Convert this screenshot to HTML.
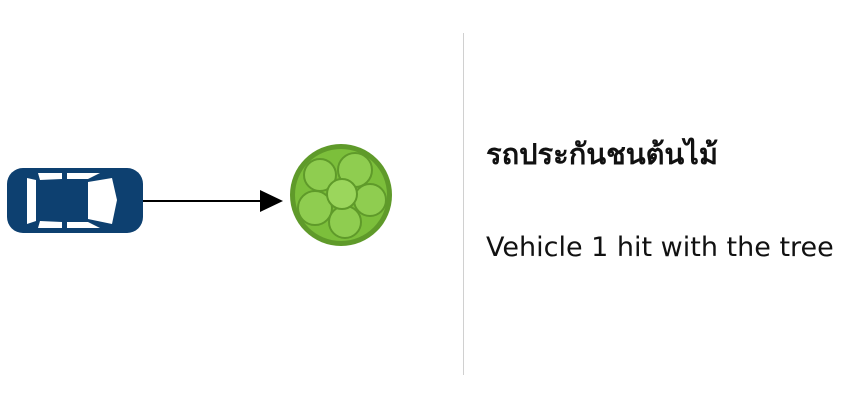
<!DOCTYPE html>
<html><head><meta charset="utf-8"><style>
body{margin:0;width:854px;height:400px;background:#fff;overflow:hidden;position:relative;font-family:"DejaVu Sans","Liberation Sans",sans-serif;color:#111}
.t{position:absolute;white-space:nowrap}
</style></head><body>
<svg width="464" height="400" style="position:absolute;left:0;top:0">
 <g>
  <rect x="7" y="168" width="136" height="65" rx="16" fill="#0d4070"/>
  <polygon points="27,178 36,180 36,221 27,224" fill="#fff"/>
  <polygon points="38,173 62,173 62,179 40,180" fill="#fff"/>
  <polygon points="67,173 100,173 88,179 67,179" fill="#fff"/>
  <polygon points="38,228 62,228 62,222 40,221" fill="#fff"/>
  <polygon points="67,228 100,228 88,222 67,222" fill="#fff"/>
  <polygon points="88,182 112,178 117,200 112,224 88,219" fill="#fff"/>
  <rect x="38" y="181" width="24" height="40" fill="#0d4070"/>
 </g>
 <g>
  <line x1="143" y1="201" x2="262" y2="201" stroke="#000" stroke-width="2"/>
  <polygon points="260,190 283,201 260,212" fill="#000"/>
 </g>
 <g>
  <circle cx="341" cy="195" r="51" fill="#5f9a2a"/>
  <circle cx="341" cy="195" r="46" fill="#7cbf3b"/>
  <circle cx="320" cy="175" r="16" fill="#8fcd50" stroke="#5f9a2a" stroke-width="2"/>
  <circle cx="355" cy="170" r="17" fill="#8fcd50" stroke="#5f9a2a" stroke-width="2"/>
  <circle cx="370" cy="200" r="16" fill="#8fcd50" stroke="#5f9a2a" stroke-width="2"/>
  <circle cx="315" cy="208" r="17" fill="#8fcd50" stroke="#5f9a2a" stroke-width="2"/>
  <circle cx="345" cy="222" r="16" fill="#8fcd50" stroke="#5f9a2a" stroke-width="2"/>
  <circle cx="342" cy="194" r="15" fill="#9bd65c" stroke="#5f9a2a" stroke-width="2"/>
 </g>
 <line x1="464" y1="33" x2="464" y2="375" stroke="#d0d0d0" stroke-width="2"/>
</svg>
<div class="t" style="left:486px;top:131px;font-size:29px;font-weight:bold">รถประกันชนต้นไม้</div>
<div class="t" style="left:486px;top:232px;font-size:27px">Vehicle 1 hit with the tree</div>
</body></html>
